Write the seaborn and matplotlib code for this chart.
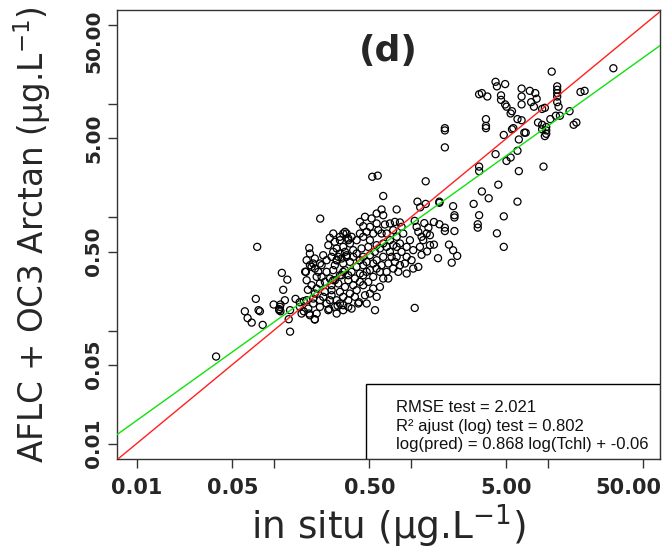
import numpy as np
import pandas as pd
import seaborn as sns
import matplotlib.pyplot as plt
import matplotlib.transforms as mtransforms
from matplotlib.patches import Rectangle

# points, stored as (log10 in situ, log10 predicted)
high_group = [
    (1.48, 1.32), (1.03, 1.29), (0.62, 1.20), (0.69, 1.18), (0.63, 1.16), (0.50, 1.09),
    (0.52, 1.10), (0.56, 1.07), (0.66, 1.08), (0.66, 1.04), (0.69, 1.00), (0.70, 0.98),
    (0.81, 1.14), (0.81, 1.07), (0.87, 1.12), (0.91, 1.10), (0.92, 1.05), (0.88, 1.02),
    (0.81, 1.00), (1.07, 1.16), (1.07, 1.13), (1.07, 1.10), (1.07, 1.07), (1.07, 1.02),
    (1.08, 0.98), (1.24, 1.11), (1.27, 1.12), (0.90, 0.98), (0.98, 0.97), (0.96, 0.96),
    (0.74, 0.94), (0.73, 0.92), (0.78, 0.87), (0.81, 0.86), (0.75, 0.79), (0.74, 0.78),
    (0.83, 0.75), (0.84, 0.75), (0.93, 0.84), (0.96, 0.82), (0.99, 0.80), (0.96, 0.78),
    (0.99, 0.77), (0.99, 0.74), (0.98, 0.72), (1.02, 0.87), (1.06, 0.90), (1.09, 0.90),
    (1.16, 0.94), (1.19, 0.82), (1.21, 0.84), (0.55, 0.87), (0.55, 0.81), (0.55, 0.79),
    (0.68, 0.73), (0.79, 0.69), (0.78, 0.59), (0.73, 0.53), (0.70, 0.50), (0.62, 0.56),
    (0.79, 0.41), (0.97, 0.45), (0.50, 0.45), (0.50, 0.41), (0.64, 0.29), (0.52, 0.23),
    (0.57, 0.17), (0.46, 0.12), (0.78, 0.14), (0.68, 0.01), (0.50, 0.02), (0.49, -0.06),
    (0.49, -0.09), (0.63, -0.14), (0.68, -0.26),
]

mid_group = [
    (0.25, 0.79), (0.25, 0.77), (0.25, 0.62), (-0.28, 0.36), (-0.24, 0.37), (0.11, 0.32),
    (-0.20, 0.19), (0.05, 0.14), (0.11, 0.12), (0.07, 0.09), (0.21, 0.14), (0.21, 0.13),
    (0.31, 0.10), (0.32, 0.02), (0.32, 0.00), (0.25, -0.09), (0.25, -0.12), (0.32, -0.12),
    (0.17, -0.04), (0.21, -0.06), (0.28, -0.24), (0.31, -0.29), (0.34, -0.34), (0.30, -0.40),
    (0.17, -0.24), (0.03, -0.80), (-0.26, -0.82), (-1.12, -0.26), (-0.66, -0.01),
    (0.10, -0.05), (0.13, -0.09), (0.03, -0.03), (0.08, -0.33), (0.12, -0.30), (0.20, -0.36),
]

core_group = [
    (-0.102, 0.071), (-0.212, 0.071), (-0.248, 0.035), (-0.200, 0.020), (-0.370, -0.039),
    (-0.346, -0.077), (-0.248, -0.053), (-0.188, -0.062), (-0.151, -0.053), (-0.078, -0.044),
    (-0.066, -0.083), (-0.127, -0.112), (-0.212, -0.142), (-0.273, -0.142), (-0.321, -0.127),
    (-0.370, -0.142), (-0.467, -0.142), (-0.455, -0.201), (-0.492, -0.260), (-0.540, -0.274),
    (-0.565, -0.304), (-0.516, -0.319), (-0.443, -0.230), (-0.394, -0.201), (-0.346, -0.171),
    (-0.297, -0.201), (-0.248, -0.245), (-0.200, -0.230), (-0.151, -0.201), (-0.102, -0.171),
    (-0.054, -0.142), (-0.029, -0.260), (0.019, -0.289), (0.068, -0.260), (0.092, -0.201),
    (0.141, -0.245), (0.044, -0.083), (0.056, -0.127), (0.080, -0.171), (0.117, -0.142),
    (-0.005, -0.201), (0.141, -0.157), (-0.394, -0.319), (-0.346, -0.348), (-0.297, -0.334),
    (-0.248, -0.378), (-0.200, -0.348), (-0.151, -0.304), (-0.102, -0.348), (-0.042, -0.407),
    (0.019, -0.452), (0.056, -0.437), (-0.127, -0.452), (-0.175, -0.481), (-0.163, -0.540),
    (-0.224, -0.481), (-0.297, -0.466), (-0.346, -0.422), (-0.394, -0.437), (-0.443, -0.393),
    (-0.492, -0.407), (-0.540, -0.378), (-0.565, -0.466), (-0.504, -0.511), (-0.455, -0.555),
    (-0.407, -0.540), (-0.346, -0.511), (-0.273, -0.525), (-0.224, -0.614), (-0.273, -0.629),
    (-0.346, -0.599), (-0.394, -0.643), (-0.443, -0.673), (-0.492, -0.702), (-0.540, -0.732),
    (-0.382, -0.761), (-0.333, -0.688), (-0.553, -0.791), (-0.577, -0.643),
    (-0.735, -0.319), (-0.699, -0.363), (-0.764, -0.481), (-0.723, -0.437), (-0.662, -0.407),
    (-0.638, -0.334), (-0.686, -0.525), (-0.662, -0.584), (-0.589, -0.540), (-0.699, -0.673),
    (-0.626, -0.658), (-0.613, -0.761), (-0.662, -0.791), (-0.711, -0.761), (-0.601, -0.820),
    (-0.699, -0.903), (-0.613, -0.481), (-0.577, -0.688), (-0.595, -0.810), (-0.533, -0.780),
    (-0.377, -0.750),
]

core_dense = [
    (-0.479, -0.127), (-0.431, -0.171), (-0.516, -0.171), (-0.553, -0.216), (-0.479, -0.304),
    (-0.419, -0.289), (-0.358, -0.274), (-0.309, -0.260), (-0.261, -0.304), (-0.224, -0.274),
    (-0.175, -0.260), (-0.127, -0.245), (-0.078, -0.230), (-0.066, -0.304), (-0.115, -0.393),
    (-0.163, -0.407), (-0.212, -0.422), (-0.273, -0.407), (-0.321, -0.393), (-0.370, -0.378),
    (-0.419, -0.348), (-0.467, -0.334), (-0.528, -0.348), (-0.553, -0.422), (-0.479, -0.466),
    (-0.431, -0.481), (-0.370, -0.496), (-0.321, -0.481), (-0.248, -0.452), (-0.200, -0.540),
    (-0.309, -0.570), (-0.370, -0.570), (-0.419, -0.599), (-0.479, -0.614), (-0.528, -0.584),
    (-0.565, -0.555), (-0.516, -0.658), (-0.455, -0.732), (-0.407, -0.702), (-0.297, -0.673),
    (-0.248, -0.702), (-0.321, -0.761), (-0.431, -0.806), (-0.492, -0.776), (-0.029, -0.348),
    (0.007, -0.378), (-0.078, -0.422), (-0.090, -0.481), (-0.029, -0.496), (-0.297, -0.083),
    (-0.236, -0.112), (-0.175, -0.142), (-0.115, -0.039), (-0.285, -0.009), (-0.333, 0.006),
    (-0.102, -0.260), (-0.139, -0.348),
    (-0.759, -0.378), (-0.735, -0.422), (-0.699, -0.452), (-0.674, -0.481), (-0.650, -0.525),
    (-0.626, -0.570), (-0.577, -0.599), (-0.553, -0.555), (-0.516, -0.511), (-0.492, -0.481),
    (-0.455, -0.511), (-0.467, -0.348), (-0.504, -0.363), (-0.540, -0.378), (-0.577, -0.348),
    (-0.613, -0.378), (-0.650, -0.422), (-0.711, -0.407), (-0.759, -0.555), (-0.723, -0.599),
    (-0.686, -0.629), (-0.638, -0.702), (-0.589, -0.732), (-0.516, -0.761), (-0.455, -0.791),
    (-0.492, -0.820), (-0.540, -0.850), (-0.662, -0.732), (-0.711, -0.717), (-0.759, -0.732),
    (-0.808, -0.791), (-0.747, -0.806), (-0.686, -0.850), (-0.516, -0.201), (-0.455, -0.186),
    (-0.492, -0.142), (-0.565, -0.142), (-0.601, -0.245),
]

low_group = [
    (-1.42, -1.23), (-1.21, -0.83), (-1.19, -0.89), (-1.16, -0.93), (-1.08, -0.95),
    (-1.10, -0.83), (-1.11, -0.82), (-1.13, -0.72), (-1.00, -0.77), (-0.95, -0.77),
    (-0.96, -0.81), (-0.95, -0.83), (-0.88, -0.82), (-0.88, -1.01), (-0.89, -0.90),
    (-0.78, -0.83), (-0.84, -0.72), (-0.78, -0.74), (-0.81, -0.75), (-0.70, -0.90),
    (-0.74, -0.85), (-0.94, -0.49), (-0.90, -0.55), (-0.93, -0.64), (-0.75, -0.64),
    (-0.77, -0.48), (-0.74, -0.27), (-0.59, -0.18), (-0.796, -0.850), (-0.735, -0.865),
    (-0.918, -0.732), (-0.954, -0.791), (-0.959, -0.820),
]

fit_slope = 0.868
fit_intercept = -0.06
stats_text = [
    "RMSE test = 2.021",
    "R\u00b2 ajust (log) test = 0.802",
    "log(pred) = 0.868 log(Tchl) + -0.06",
]
tick_values = [0.01, 0.05, 0.1, 0.5, 1, 5, 10, 50]
tick_labels = ["0.01", "0.05", "", "0.50", "", "5.00", "", "50.00"]

all_points = high_group + mid_group + core_group + core_dense + low_group
df = pd.DataFrame(all_points, columns=["log_insitu", "log_pred"])
df["insitu"] = 10 ** df["log_insitu"]
df["pred"] = 10 ** df["log_pred"]

line_x = np.array([1e-3, 1e2])
lines = pd.DataFrame({
    "x": line_x,
    "one_to_one": line_x,
    "fit": 10 ** (fit_slope * np.log10(line_x) + fit_intercept),
})

sns.set_style("ticks")
plt.rcParams["font.family"] = ["DejaVu Sans"]

fig = plt.figure(figsize=(6.69, 5.5), dpi=100)
ax = fig.add_axes([0.1744, 0.1649, 0.8121, 0.8169])

sns.scatterplot(data=df, x="insitu", y="pred", ax=ax, marker="o", s=26,
                facecolor="none", edgecolor="black", linewidth=0.9, zorder=2)
sns.lineplot(data=lines, x="x", y="one_to_one", ax=ax, color="#ff2020", linewidth=1.0, zorder=3)
sns.lineplot(data=lines, x="x", y="fit", ax=ax, color="#10e010", linewidth=1.0, zorder=3)

ax.set_xscale("log")
ax.set_yscale("log")
ax.set_xlim(0.00715, 66.1)
ax.set_ylim(0.00726, 68.4)

ax.set_xticks(tick_values)
ax.set_xticklabels(tick_labels)
ax.set_yticks(tick_values)
ax.set_yticklabels(tick_labels)
ax.minorticks_off()
ax.tick_params(axis="both", which="major", length=6.5, width=1.0, color="#333333")
ax.tick_params(axis="x", pad=7)
ax.tick_params(axis="y", pad=3)
for lab in ax.get_xticklabels():
    lab.set_fontsize(15)
    lab.set_fontweight("bold")
for lab in ax.get_yticklabels():
    lab.set_fontsize(14.5)
    lab.set_fontweight("bold")
    lab.set_rotation(90)
    lab.set_verticalalignment("center")

# R keeps the outer labels inside the device
ax.get_xticklabels()[-1].set_transform(
    ax.get_xticklabels()[-1].get_transform()
    + mtransforms.ScaledTranslation(-0.15, 0, fig.dpi_scale_trans))
ax.get_yticklabels()[-1].set_transform(
    ax.get_yticklabels()[-1].get_transform()
    + mtransforms.ScaledTranslation(0, -0.16, fig.dpi_scale_trans))

for sp in ax.spines.values():
    sp.set_visible(True)
    sp.set_color("#333333")
    sp.set_linewidth(1.0)

ax.set_xlabel("in situ (\u00b5g.L$^{-1}$)", fontsize=27)
ax.set_ylabel("AFLC + OC3 Arctan (\u00b5g.L$^{-1}$)", fontsize=23.5)
ax.xaxis.set_label_coords(0.5, -0.095)
ax.yaxis.set_label_coords(-0.117, 0.5)

ax.text(0.5, 0.909, "(d)", transform=ax.transAxes, ha="center", va="center",
        fontsize=26, fontweight="bold")

ax.add_patch(Rectangle((0.458, 0.0), 0.542, 0.1676, transform=ax.transAxes,
                       facecolor="white", edgecolor="black", linewidth=1.0, zorder=4))
for txt, ypos in zip(stats_text, [0.115, 0.074, 0.032]):
    ax.text(0.514, ypos, txt, transform=ax.transAxes, ha="left", va="center",
            fontsize=12, family="Liberation Sans", color="#111111", zorder=5)

fig.savefig("out.png", dpi=100)
